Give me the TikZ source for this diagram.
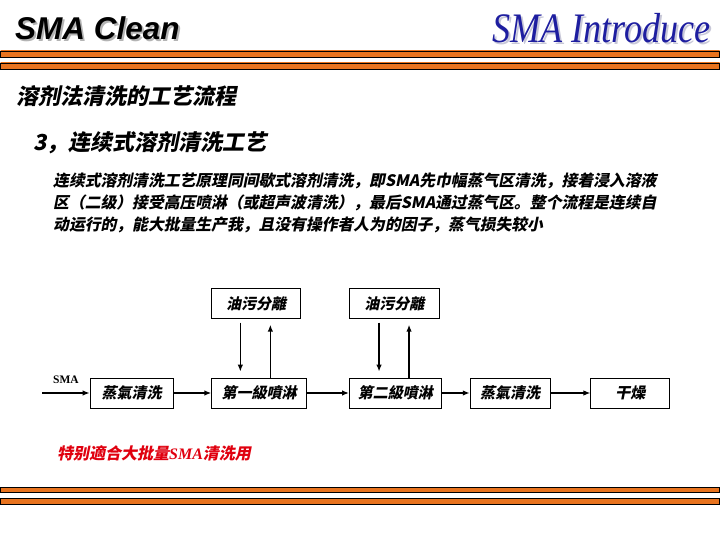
\documentclass[tikz,border=0pt]{standalone}
\usepackage{fontspec}
\setmainfont{Liberation Serif}
\newfontfamily\headsans{Liberation Sans}
\newfontfamily\cjk[FakeSlant=0.2]{Noto Sans CJK SC}
\usetikzlibrary{arrows.meta,positioning}
\definecolor{introblue}{HTML}{1E1EA0}
\definecolor{introshadow}{HTML}{C8C8D8}
\definecolor{barorange}{HTML}{E8731E}
\definecolor{bardark}{HTML}{9A3F0C}
\definecolor{notered}{HTML}{E0000F}
\definecolor{shadowgray}{HTML}{B4B4B4}
\pgfdeclarehorizontalshading{barshade}{100bp}{color(0bp)=(bardark); color(12bp)=(barorange); color(90bp)=(barorange); color(100bp)=(bardark)}

\begin{document}
\begin{tikzpicture}[x=1pt, y=-1pt,
    bar/.style={draw=black, line width=0.8pt, shading=barshade},
    stagebox/.style={rectangle, draw=black, line width=0.7pt, fill=white,
                     minimum height=30pt, inner sep=0pt,
                     font=\cjk\bfseries\fontsize{15}{15}\selectfont},
    flow/.style={line width=1.7pt, -{Latex[length=7pt,width=5.5pt]}},
    cjktitle/.style={font=\cjk\bfseries\fontsize{22}{22}\selectfont,
                     anchor=base west, inner sep=0pt},
    parline/.style={font=\cjk\bfseries\fontsize{15.8}{15.8}\selectfont,
                    anchor=base west, inner sep=0pt},
]
\fill[white] (0,0) rectangle (720,540);
\useasboundingbox (0,0) rectangle (720,540);

% header
\node[font=\headsans\bfseries\itshape\fontsize{31.5}{31.5}\selectfont, text=shadowgray,
      anchor=base west, inner sep=0pt] (cleanshadow) at (17,42) {SMA Clean};
\node[font=\headsans\bfseries\itshape\fontsize{31.5}{31.5}\selectfont,
      anchor=base west, inner sep=0pt] (clean) at (15,40) {SMA Clean};
\node[font=\itshape\fontsize{42}{42}\selectfont, text=introshadow,
      anchor=base west, inner sep=0pt] (introshadow) at (494,45) {\scalebox{0.86}[1]{SMA Introduce}};
\node[font=\itshape\fontsize{42}{42}\selectfont, text=introblue,
      anchor=base west, inner sep=0pt] (intro) at (492,43) {\scalebox{0.86}[1]{SMA Introduce}};
\draw[bar] (0.5,51) rectangle (719.5,57);
\draw[bar] (0.5,63) rectangle (719.5,69);

% titles and text
\node[cjktitle] (title) at (16,105) {溶剂法清洗的工艺流程};
\node[cjktitle] (subtitle) at (33,151) {3，连续式溶剂清洗工艺};
\node[parline] (par1) at (53,187) {连续式溶剂清洗工艺原理同间歇式溶剂清洗，即SMA先巾幅蒸气区清洗，接着浸入溶液};
\node[parline] (par2) at (53,209) {区（二级）接受高压喷淋（或超声波清洗），最后SMA通过蒸气区。整个流程是连续自};
\node[parline] (par3) at (53,230) {动运行的，能大批量生产我，且没有操作者人为的因子，蒸气损失较小};

% flow
\node[stagebox, minimum width=83pt] (steam1) at (131.5,393) {蒸氣清洗};
\node[stagebox, minimum width=95pt, right=38pt of steam1] (spray1) {第一級噴淋};
\node[stagebox, minimum width=92pt, right=42pt of spray1] (spray2) {第二級噴淋};
\node[stagebox, minimum width=80pt, right=28pt of spray2] (steam2) {蒸氣清洗};
\node[stagebox, minimum width=79pt, right=40pt of steam2] (dry) {干燥};
\node[stagebox, minimum width=89pt, above=59pt of spray1.north west, anchor=south west] (sep1) {油污分離};
\node[stagebox, minimum width=90pt, above=59pt of spray2.north west, anchor=south west] (sep2) {油污分離};

\coordinate (smain) at (42,393);
\node[font=\bfseries\fontsize{11.5}{11.5}\selectfont, inner sep=0pt] (smalabel) at (66,380) {SMA};

\draw[flow] (smain) -- (steam1.west);
\draw[flow] (steam1) -- (spray1);
\draw[flow] (spray1) -- (spray2);
\draw[flow] (spray2) -- (steam2);
\draw[flow] (steam2) -- (dry);
\draw[flow] ([xshift=29pt,yshift=-4pt]sep1.south west) -- ([xshift=29pt,yshift=6pt]spray1.north west);
\draw[flow] ([xshift=59pt]spray1.north west) -- ([xshift=59pt,yshift=-6pt]sep1.south west);
\draw[flow] ([xshift=30pt,yshift=-4pt]sep2.south west) -- ([xshift=30pt,yshift=6pt]spray2.north west);
\draw[flow] ([xshift=60pt]spray2.north west) -- ([xshift=60pt,yshift=-6pt]sep2.south west);

% note and footer
\node[font=\cjk\bfseries\fontsize{16}{16}\selectfont, text=notered, anchor=base west,
      inner sep=0pt] (note) at (57,459) {特别適合大批量{\rmfamily\itshape SMA}清洗用};
\draw[bar] (0.5,487) rectangle (719.5,492.5);
\draw[bar] (0.5,498) rectangle (719.5,504);
\end{tikzpicture}
\end{document}
